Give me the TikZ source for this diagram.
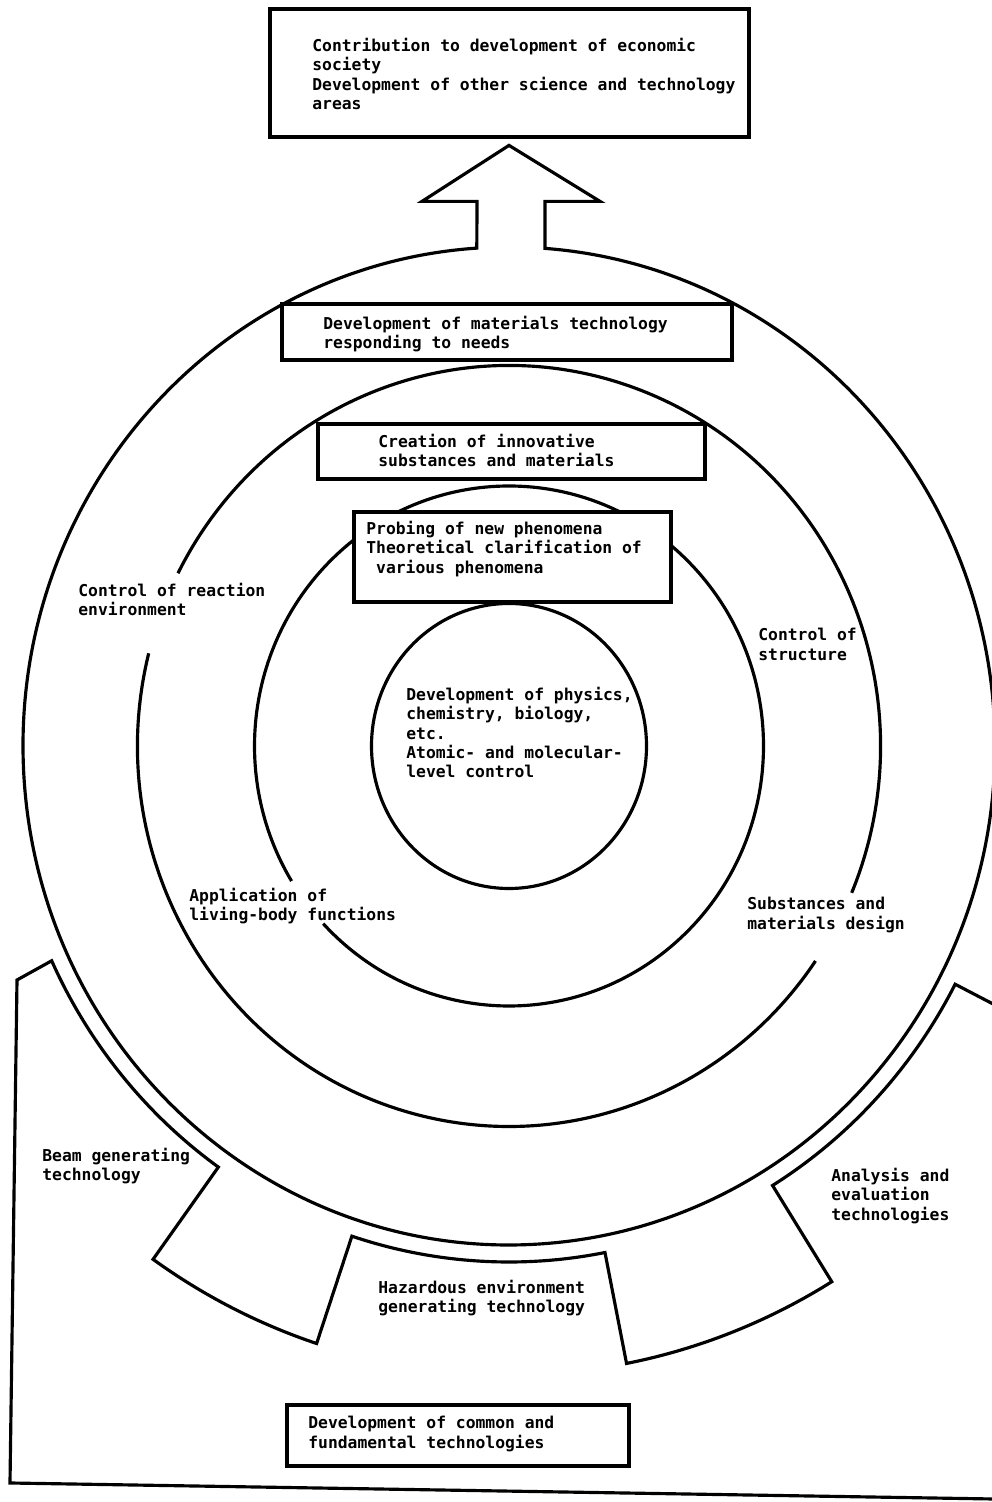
\documentclass[tikz,border=0pt]{standalone}
\usepackage{fontspec}
\setmonofont{DejaVu Sans Mono}
\begin{document}
\begin{tikzpicture}[x=2cm, y=2cm,
  ring/.style={line width=1.8pt},
  box/.style={draw, fill=white, line width=1.8pt},
  lbl/.style={anchor=north west, inner sep=0pt, align=left,
    font=\fontsize{9.3}{11}\selectfont\ttfamily\bfseries}]

\useasboundingbox (0,0) rectangle (9.92,15.02);

% Rings round the common centre
\begin{scope}[shift={(5.09,7.56)}]
% Outer ring, opened into the upward arrow
\draw[ring, line join=miter] (93.8:4.86 and 4.99)
  arc[start angle=93.8, end angle=445.75, x radius=4.86, y radius=4.99]
  -- ++(0,0.47) -- ++(0.55,0) -- ++(-0.91,0.56) -- ++(-0.87,-0.56) -- ++(0.55,0) -- cycle;

% Middle ring (two gaps for labels)
\draw[ring] (165.9:3.715 and 3.805) arc[start angle=165.9, end angle=325.6, x radius=3.715, y radius=3.805];
\draw[ring] (-22.7:3.715 and 3.805) arc[start angle=-22.7, end angle=153, x radius=3.715, y radius=3.805];

% Third ring (one gap)
\draw[ring] (223.1:2.545 and 2.6) arc[start angle=223.1, end angle=571.3, x radius=2.545, y radius=2.6];

% Inner ring
\draw[ring] (0,0) ellipse[x radius=1.375, y radius=1.425];

% Frame of common technologies, notched round the outer ring
\draw[ring, line join=miter] (-4.99,-7.37) -- (-4.92,-2.34) -- (204.6:5.03 and 5.16)
  arc[start angle=204.6, end angle=234.7, x radius=5.03, y radius=5.16]
  -- (234.7:6.16 and 6.29) arc[start angle=234.7, end angle=251.8, x radius=6.16, y radius=6.29]
  -- (251.8:5.03 and 5.16) arc[start angle=251.8, end angle=281, x radius=5.03, y radius=5.16]
  -- (281:6.16 and 6.29) arc[start angle=281, end angle=301.6, x radius=6.16, y radius=6.29]
  -- (301.6:5.03 and 5.16) arc[start angle=301.6, end angle=332.5, x radius=5.03, y radius=5.16]
  -- (332.5:6.16 and 6.29) -- (5.46,-7.54) -- cycle;
\end{scope}

% Boxes
\draw[box] (2.70,13.65) rectangle (7.49,14.93);  % top goal
\draw[box] (2.82,11.42) rectangle (7.32,11.98);  % on outer ring
\draw[box] (3.18,10.23) rectangle (7.05,10.78);  % on middle ring
\draw[box] (3.54,9.00) rectangle (6.71,9.90);    % on third ring
\draw[box] (2.87,0.36) rectangle (6.29,0.97);    % bottom

% Labels inside the boxes
\node[lbl] (contrib) at (3.12,14.64) {Contribution to development of economic\\society\\Development of other science and technology\\areas};
\node[lbl] (needs) at (3.23,11.86) {Development of materials technology\\responding to needs};
\node[lbl] (creation) at (3.78,10.68) {Creation of innovative\\substances and materials};
\node[lbl] (probing) at (3.66,9.81) {Probing of new phenomena\\Theoretical clarification of\\\phantom{v}various phenomena};
\node[lbl] (common) at (3.08,0.86) {Development of common and\\fundamental technologies};

% Label in the centre
\node[lbl] (science) at (4.06,8.15) {Development of physics,\\chemistry, biology,\\etc.\\Atomic- and molecular-\\level control};

% Labels on the rings
\node[lbl] (reaction) at (0.78,9.19) {Control of reaction\\environment};
\node[lbl] (structure) at (7.58,8.74) {Control of\\structure};
\node[lbl] (living) at (1.89,6.14) {Application of\\living-body functions};
\node[lbl] (design) at (7.47,6.05) {Substances and\\materials design};

% Labels on the frame
\node[lbl] (beam) at (0.42,3.54) {Beam generating\\technology};
\node[lbl] (hazard) at (3.78,2.22) {Hazardous environment\\generating technology};
\node[lbl] (analysis) at (8.31,3.34) {Analysis and\\evaluation\\technologies};

\end{tikzpicture}
\end{document}
